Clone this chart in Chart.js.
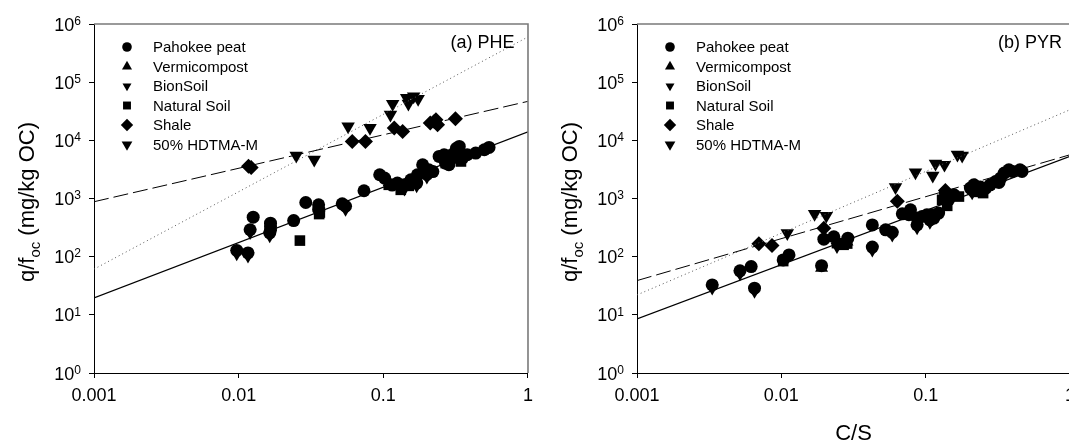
<!DOCTYPE html>
<html>
<head>
<meta charset="utf-8">
<title>Normalized sorption vs C/S</title>
<script src="https://cdn.jsdelivr.net/npm/chart.js@4/dist/chart.umd.min.js"></script>
<style>
  html, body { margin: 0; padding: 0; background: #fff; }
  body { position: relative; width: 1069px; height: 441px; overflow: hidden; }
  canvas { position: absolute; top: 0; }
</style>
</head>
<body>
<canvas id="phe" width="540" height="441" style="left:0"></canvas>
<canvas id="pyr" width="560" height="441" style="left:540px"></canvas>
<script>
// ---- axis ticks ----
const xTickValues = [0.001, 0.01, 0.1, 1];
const xTickLabels = ['0.001', '0.01', '0.1', '1'];
const yTickExponents = [0, 1, 2, 3, 4, 5, 6];

// ---- series names (legend order) ----
const seriesNames = ['Pahokee peat', 'Vermicompost', 'BionSoil', 'Natural Soil', 'Shale', '50% HDTMA-M'];

// ---- (a) PHE : [C/S, q/foc] ----
const phePeat = [
  [0.0097, 128], [0.0116, 116], [0.0126, 478], [0.0120, 290], [0.0166, 377], [0.0166, 330],
  [0.0166, 290], [0.0164, 255], [0.024, 418], [0.0291, 853], [0.0357, 779], [0.0357, 650],
  [0.052, 811], [0.0548, 735], [0.0735, 1360], [0.0944, 2560], [0.102, 2245], [0.115, 1700],
  [0.125, 1840], [0.14, 1720], [0.155, 2100], [0.168, 2100], [0.17, 1840], [0.172, 2560],
  [0.187, 3800], [0.191, 2920], [0.2, 2600], [0.206, 3120], [0.22, 2900], [0.243, 5290],
  [0.263, 5650], [0.269, 4060], [0.277, 4330], [0.284, 3800], [0.29, 5500], [0.30, 4960],
  [0.311, 6040], [0.32, 7300], [0.327, 6890], [0.335, 7850], [0.353, 4960], [0.38, 5650],
  [0.435, 6040], [0.499, 6890], [0.538, 7550]
];
const pheVermi = [[0.0166, 320], [0.036, 700], [0.11, 1900], [0.25, 5000], [0.33, 6500]];
const pheBion = [
  [0.0097, 112], [0.0116, 103], [0.0120, 260], [0.0164, 228], [0.0548, 655],
  [0.14, 1450], [0.17, 1650], [0.2, 2350], [0.3, 4400]
];
const pheNatural = [
  [0.0265, 189], [0.0364, 574], [0.036, 540], [0.109, 1720], [0.132, 1410],
  [0.15, 1650], [0.27, 4060], [0.344, 4330]
];
const pheShale = [
  [0.0117, 3600], [0.0122, 3400], [0.061, 9570], [0.0752, 9570], [0.119, 16300], [0.136, 14200],
  [0.211, 19900], [0.225, 21000], [0.231, 22600], [0.237, 18500], [0.315, 23500]
];
const pheHdtma = [
  [0.025, 5430], [0.0333, 4640], [0.0571, 17300], [0.0809, 16300], [0.112, 27600],
  [0.116, 42200], [0.145, 53500], [0.149, 42700], [0.162, 57000], [0.174, 51600]
];
const pheFitNatural = [[0.001, 19.5], [1, 14000]];
const pheFitShale = [[0.001, 880], [1, 46800]];
const pheFitHdtma = [[0.001, 61], [1, 600000]];

// ---- (b) PYR : [C/S, q/foc] ----
const pyrPeat = [
  [0.00332, 32.7], [0.00517, 57], [0.00618, 67.6], [0.00652, 28.7], [0.0103, 88], [0.0113, 107],
  [0.019, 70], [0.0197, 200], [0.0231, 220], [0.0289, 208], [0.0427, 352], [0.0427, 146],
  [0.0528, 289], [0.0587, 262], [0.0689, 545], [0.0765, 525], [0.0785, 640], [0.0872, 460],
  [0.0872, 352], [0.0944, 490], [0.102, 525], [0.107, 430], [0.111, 525], [0.114, 460],
  [0.123, 561], [0.137, 1240], [0.144, 950], [0.157, 1160], [0.204, 1510], [0.21, 1410],
  [0.216, 1720], [0.228, 1410], [0.239, 1570], [0.261, 1510], [0.28, 1720], [0.305, 1960],
  [0.322, 1885], [0.33, 2240], [0.35, 2740], [0.377, 3120], [0.398, 2920], [0.45, 3120], [0.465, 2920]
];
const pyrVermi = [[0.019, 64], [0.0285, 180], [0.08, 560], [0.3, 1800]];
const pyrBion = [
  [0.00332, 29], [0.00517, 51], [0.00652, 25.5], [0.0243, 150], [0.0427, 130],
  [0.0587, 235], [0.0872, 315], [0.107, 390], [0.21, 1250]
];
const pyrNatural = [
  [0.0103, 84], [0.0243, 171], [0.027, 160], [0.0286, 168], [0.13, 950],
  [0.141, 748], [0.17, 1080], [0.22, 1300], [0.25, 1240]
];
const pyrShale = [[0.00699, 166], [0.00862, 155], [0.0197, 309], [0.0636, 900], [0.137, 1370], [0.22, 1650]];
const pyrHdtma = [
  [0.011, 254], [0.017, 545], [0.0205, 504], [0.0618, 1570], [0.085, 2800],
  [0.112, 2460], [0.117, 3960], [0.135, 3800], [0.166, 5650], [0.179, 5430]
];
const pyrFitNatural = [[0.001, 8.5], [1, 5300]];
const pyrFitShale = [[0.001, 38.8], [1, 5650]];
const pyrFitHdtma = [[0.001, 22], [1, 33600]];

// ---- styling ----
const FONT = "'Liberation Sans', Arial, Helvetica, sans-serif";
Chart.defaults.font.family = FONT;
Chart.defaults.color = '#000';

const markerStyles = [
  { pointStyle: 'circle',   radius: 6.5, rotation: 0,   legendRadius: 4.8 },
  { pointStyle: 'triangle', radius: 7.5, rotation: 0,   legendRadius: 5.8 },
  { pointStyle: 'triangle', radius: 7.5, rotation: 180, legendRadius: 5.2 },
  { pointStyle: 'rect',     radius: 7.5, rotation: 0,   legendRadius: 5.6 },
  { pointStyle: 'rectRot',  radius: 7.5, rotation: 0,   legendRadius: 6.2 },
  { pointStyle: 'triangle', radius: 7.8, rotation: 180, legendRadius: 6.2 }
];
const fitStyles = [
  { label: 'fit natural sorbents', color: '#000', width: 1.2, dash: [] },
  { label: 'fit shale',            color: '#000', width: 1.0, dash: [15, 5] },
  { label: 'fit HDTMA-M',          color: '#555', width: 1.0, dash: [1, 3] }
];

function xy(list) { return list.map(([x, y]) => ({ x, y })); }

// draws frame, y tick labels with exponents, legend, panel tag and axis titles
function makeDecor(p) {
  return {
    id: 'panelDecor',
    afterDraw(chart) {
      const ctx = chart.ctx;
      const a = chart.chartArea;
      const yScale = chart.scales.y;
      ctx.save();

      // grey top/right frame
      ctx.strokeStyle = '#7a7a7a';
      ctx.lineWidth = 1.6;
      ctx.beginPath();
      ctx.moveTo(a.left, a.top);
      ctx.lineTo(a.right, a.top);
      ctx.lineTo(a.right, a.bottom);
      ctx.stroke();

      // y tick labels: 10^k
      ctx.fillStyle = '#000';
      yTickExponents.forEach(k => {
        const py = yScale.getPixelForValue(Math.pow(10, k));
        ctx.font = '12px ' + FONT;
        const expText = String(k);
        const we = ctx.measureText(expText).width;
        const expLeft = a.left - 13 - we;
        ctx.textAlign = 'left';
        ctx.textBaseline = 'alphabetic';
        ctx.fillText(expText, expLeft, py + 0.8);
        ctx.font = '18px ' + FONT;
        ctx.textAlign = 'right';
        ctx.fillText('10', expLeft, py + 6.5);
      });

      // legend
      seriesNames.forEach((name, i) => {
        const ms = markerStyles[i];
        const yy = a.top + 23 + i * 19.5;
        ctx.fillStyle = '#000';
        ctx.strokeStyle = '#000';
        Chart.helpers.drawPoint(ctx, {
          pointStyle: ms.pointStyle, radius: ms.legendRadius, rotation: ms.rotation, borderWidth: 0
        }, a.left + 33, yy);
        ctx.font = '15px ' + FONT;
        ctx.textAlign = 'left';
        ctx.textBaseline = 'alphabetic';
        ctx.fillText(name, a.left + 59, yy + 5.4);
      });

      // panel tag
      ctx.font = '18px ' + FONT;
      ctx.textAlign = 'right';
      ctx.textBaseline = 'alphabetic';
      ctx.fillText(p.tag, a.right - p.tagInset, a.top + 24.3);

      // y title with subscript
      const big = '22px ' + FONT, small = '15px ' + FONT;
      const parts = [['q/f', big, 0], ['oc', small, 6], [' (mg/kg OC)', big, 0]];
      let total = 0;
      parts.forEach(pt => { ctx.font = pt[1]; total += ctx.measureText(pt[0]).width; });
      ctx.save();
      ctx.translate(a.left - 60, (a.top + a.bottom) / 2 + 3.5);
      ctx.rotate(-Math.PI / 2);
      ctx.textAlign = 'left';
      let cx = -total / 2;
      parts.forEach(pt => {
        ctx.font = pt[1];
        ctx.fillText(pt[0], cx, pt[2]);
        cx += ctx.measureText(pt[0]).width;
      });
      ctx.restore();

      // x title
      if (p.xTitle) {
        ctx.font = '22px ' + FONT;
        ctx.textAlign = 'center';
        ctx.textBaseline = 'alphabetic';
        ctx.fillText(p.xTitle, (a.left + a.right) / 2, 440);
      }
      ctx.restore();
    }
  };
}

function buildPanel(canvasId, p) {
  const datasets = [];
  p.fits.forEach((f, i) => datasets.push({
    label: fitStyles[i].label,
    data: xy(f),
    showLine: true,
    pointRadius: 0,
    borderColor: fitStyles[i].color,
    borderWidth: fitStyles[i].width,
    borderDash: fitStyles[i].dash,
    fill: false
  }));
  p.series.forEach((s, i) => datasets.push({
    label: seriesNames[i],
    data: xy(s),
    showLine: false,
    pointStyle: markerStyles[i].pointStyle,
    pointRadius: markerStyles[i].radius,
    pointRotation: markerStyles[i].rotation,
    pointBorderWidth: 0,
    backgroundColor: '#000',
    borderColor: '#000'
  }));

  const axisCommon = {
    type: 'logarithmic',
    grid: { drawOnChartArea: false, drawTicks: true, tickLength: 5, color: '#000', lineWidth: 1 },
    border: { display: true, color: '#000', width: 1 }
  };

  return new Chart(document.getElementById(canvasId), {
    type: 'scatter',
    data: { datasets },
    options: {
      responsive: false,
      animation: false,
      devicePixelRatio: 1,
      events: [],
      layout: { padding: { top: 24, right: p.padRight, bottom: 0, left: 0 } },
      plugins: { legend: { display: false }, tooltip: { enabled: false } },
      scales: {
        x: Object.assign({}, axisCommon, {
          min: 0.001, max: 1, position: 'bottom',
          afterBuildTicks: s => { s.ticks = xTickValues.map(v => ({ value: v })); },
          afterFit: s => { s.height = 68; },
          ticks: {
            callback: (v, i) => xTickLabels[i],
            font: { size: 18, family: FONT }, color: '#000',
            padding: 7, maxRotation: 0, autoSkip: false
          }
        }),
        y: Object.assign({}, axisCommon, {
          min: 1, max: 1e6, position: 'left',
          afterBuildTicks: s => { s.ticks = yTickExponents.map(k => ({ value: Math.pow(10, k) })); },
          afterFit: s => { s.width = p.axisLeft; },
          ticks: { display: false }
        })
      }
    },
    plugins: [makeDecor(p)]
  });
}

buildPanel('phe', {
  series: [phePeat, pheVermi, pheBion, pheNatural, pheShale, pheHdtma],
  fits: [pheFitNatural, pheFitShale, pheFitHdtma],
  axisLeft: 94, padRight: 12,
  tag: '(a) PHE', tagInset: 13.5, xTitle: ''
});

buildPanel('pyr', {
  series: [pyrPeat, pyrVermi, pyrBion, pyrNatural, pyrShale, pyrHdtma],
  fits: [pyrFitNatural, pyrFitShale, pyrFitHdtma],
  axisLeft: 97, padRight: 30,
  tag: '(b) PYR', tagInset: 8, xTitle: 'C/S'
});
</script>
</body>
</html>
